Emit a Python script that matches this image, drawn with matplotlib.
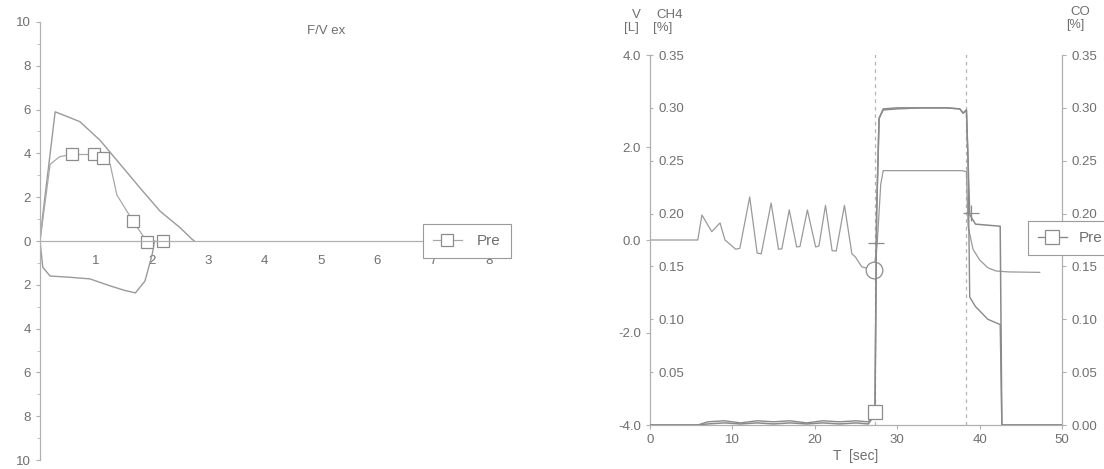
import matplotlib.pyplot as plt
import numpy as np

plt.rcParams['font.family'] = ['Liberation Sans', 'DejaVu Sans']

line_c = '#9a9a9a'
text_c = '#6f6f6f'

# F/V loop (volume in L, flow in L/s)
ex_vol = [0, 0.05, 0.27, 0.71, 1.07, 1.43, 1.79, 2.14, 2.5, 2.7, 2.75]
ex_flow = [0, 1.2, 5.9, 5.45, 4.6, 3.5, 2.4, 1.36, 0.6, 0.1, 0]
in_vol = [0, 0.05, 0.18, 0.5, 0.89, 1.25, 1.5, 1.7, 1.87, 2.0, 2.04]
in_flow = [0, -1.2, -1.6, -1.65, -1.73, -2.05, -2.25, -2.37, -1.83, -0.6, 0]
pre_vol = [0, 0.18, 0.35, 0.57, 0.97, 1.13, 1.25, 1.37, 1.66, 1.91, 2.2]
pre_flow = [0, 3.5, 3.85, 3.95, 3.95, 3.8, 3.5, 2.1, 0.9, -0.05, 0.0]
pre_marks = [3, 4, 5, 8, 9, 10]

# single breath trace
t_v = [0, 5.8, 6.3, 7.5, 8.5, 9.1, 10.4, 10.9, 12.1, 13.0, 13.5, 14.7, 15.6, 16.0,
       16.9, 17.8, 18.2, 19.1, 20.1, 20.5, 21.3, 22.1, 22.6, 23.6, 24.5, 24.9,
       25.7, 27.2, 27.6, 28.0, 28.3, 37.8, 38.4, 38.6, 39.2, 40.0, 41.0, 42.0,
       43.5, 47.3]
vol = [0, 0, 0.54, 0.18, 0.37, 0.0, -0.2, -0.18, 0.93, -0.28, -0.3, 0.8, -0.2,
       -0.19, 0.65, -0.15, -0.14, 0.65, -0.15, -0.13, 0.75, -0.23, -0.24, 0.75,
       -0.3, -0.36, -0.58, -0.65, 0.0, 1.2, 1.5, 1.5, 1.48, 0.3, -0.2, -0.43,
       -0.6, -0.67, -0.69, -0.7]
t_gas = [0, 5.8, 7, 9, 11, 13, 15, 17, 19, 21, 23, 25, 26.5, 27.3, 27.5, 27.8,
         28.3, 30, 33, 36, 37.6, 38.0, 38.4, 38.6, 38.8, 39.5, 41, 42.5, 42.7, 50]
ch4 = [0, 0, 0.001, 0.002, 0.001, 0.002, 0.001, 0.002, 0.001, 0.002, 0.001,
       0.002, 0.001, 0.01, 0.2, 0.29, 0.299, 0.3, 0.3, 0.3, 0.299, 0.295, 0.298,
       0.25, 0.199, 0.19, 0.189, 0.188, 0.0, 0.0]
co = [0, 0, 0.003, 0.004, 0.002, 0.004, 0.003, 0.004, 0.002, 0.004, 0.003,
      0.004, 0.003, 0.012, 0.2, 0.29, 0.298, 0.299, 0.3, 0.3, 0.299, 0.295,
      0.298, 0.25, 0.121, 0.112, 0.1, 0.095, 0.0, 0.0]
co_mark = 13
insp_t, insp_v = 27.2, -0.65
cross_t = [27.4, 38.9]
cross_v = [-0.06, 0.58]
events = [27.3, 38.4]

fig = plt.figure(figsize=(11.04, 4.69), dpi=100)

# ---- left: flow / volume
ax = fig.add_axes([40/1104, 9/469, 449/1104, 438/469])
ax.plot(ex_vol, ex_flow, color=line_c, lw=1)
ax.plot(in_vol, in_flow, color=line_c, lw=1)
ax.plot(pre_vol, pre_flow, color='#a8a8a8', lw=0.9, marker='s', markevery=pre_marks,
        ms=9, mfc='white', mec='#8c8c8c', mew=0.9, label='Pre')
ax.set_xlim(0, 8)
ax.set_ylim(-10, 10)
ax.spines['bottom'].set_position(('data', 0))
ax.spines['top'].set_visible(False)
ax.spines['right'].set_visible(False)
for s in ['left', 'bottom']:
    ax.spines[s].set_color('#b0b0b0')
    ax.spines[s].set_linewidth(0.9)
ax.set_xticks(range(1, 9))
yt = list(range(-10, 11, 2))
ax.set_yticks(yt)
ax.set_yticklabels([str(abs(v)) for v in yt])
ax.set_yticks(np.arange(-10, 10.5, 1), minor=True)
ax.tick_params(colors='#b0b0b0', labelcolor=text_c, labelsize=9.5, length=3)
ax.tick_params(axis='x', length=0, pad=10)
ax.tick_params(which='minor', length=2, colors='#b8b8b8')
ax.text(5.1, 9.6, 'F/V ex', color=text_c, fontsize=9.5, ha='center', va='center')
leg = ax.legend(loc='center left', bbox_to_anchor=(423/1104, 1-241/469),
                bbox_transform=fig.transFigure, fontsize=11, fancybox=False,
                edgecolor='#9a9a9a', borderpad=0.65, handlelength=1.9,
                handletextpad=1.0, borderaxespad=0, labelcolor=text_c, framealpha=1)
leg.get_frame().set_linewidth(0.8)

# ---- right: V, CH4, CO over time
bx = fig.add_axes([650/1104, 44/469, 412/1104, 370/469])
bx.set_xlim(0, 50)
bx.set_ylim(-4, 4)
cx = bx.twinx()
dx = bx.twinx()
for a in (cx, dx):
    a.set_ylim(0, 0.35)
    for s in a.spines.values():
        s.set_visible(False)
bx.spines['top'].set_visible(False)
bx.spines['right'].set_visible(False)
for s in ['left', 'bottom']:
    bx.spines[s].set_color('#b0b0b0')
    bx.spines[s].set_linewidth(0.9)
dx.spines['right'].set_visible(True)
dx.spines['right'].set_color('#b0b0b0')
dx.spines['right'].set_linewidth(0.9)

for x in events:
    bx.axvline(x, ymax=1.01, color='#b5b5b5', lw=0.9, ls=(0, (3, 3)))

bx.plot(t_v, vol, color=line_c, lw=0.9)
cx.plot(t_gas, ch4, color='#8a8a8a', lw=1.1)
dx.plot(t_gas, co, color='#8a8a8a', lw=1.0, marker='s', markevery=[co_mark],
        ms=10, mfc='white', mec='#8c8c8c', mew=0.9, label='Pre')
bx.plot([insp_t], [insp_v], 'o', ms=12, mfc='white', mec='#8c8c8c', mew=0.9)
bx.plot(cross_t, cross_v, '+', ms=11, color='#8c8c8c', mew=0.9)

bx.set_xticks(range(0, 51, 10))
bx.set_yticks([-4, -2, 0, 2, 4])
bx.set_yticklabels(['-4.0', '-2.0', '0.0', '2.0', '4.0'])
bx.tick_params(colors='#b0b0b0', labelcolor=text_c, labelsize=9.5, length=3)
bx.set_xlabel('T  [sec]', color=text_c, fontsize=10, labelpad=2)

gt = np.arange(0, 0.351, 0.05)
cx.yaxis.set_ticks_position('left')
cx.set_yticks(gt[1:])
cx.set_yticklabels(['%.2f' % v for v in gt[1:]])
cx.tick_params(axis='y', left=True, right=False, labelleft=True, labelright=False,
               direction='in', length=2, pad=-6, colors='#b0b0b0',
               labelcolor=text_c, labelsize=9.5)
for lb in cx.get_yticklabels():
    lb.set_horizontalalignment('left')

dx.set_yticks(gt)
dx.set_yticklabels(['%.2f' % v for v in gt])
dx.tick_params(axis='y', colors='#b0b0b0', labelcolor=text_c, labelsize=9.5, length=3)

fig.text(636/1104, 1-15/469, 'V', color=text_c, fontsize=9.5, ha='center', va='center')
fig.text(631/1104, 1-28/469, '[L]', color=text_c, fontsize=9.5, ha='center', va='center')
fig.text(670/1104, 1-15/469, 'CH4', color=text_c, fontsize=9.5, ha='center', va='center')
fig.text(663/1104, 1-28/469, '[%]', color=text_c, fontsize=9.5, ha='center', va='center')
fig.text(1080/1104, 1-12/469, 'CO', color=text_c, fontsize=9.5, ha='center', va='center')
fig.text(1075/1104, 1-25/469, '[%]', color=text_c, fontsize=9, ha='center', va='center')

leg2 = dx.legend(loc='center left', bbox_to_anchor=(1028/1104, 1-238/469),
                 bbox_transform=fig.transFigure, fontsize=11, fancybox=False,
                 edgecolor='#9a9a9a', borderpad=0.65, handlelength=1.9,
                 handletextpad=0.8, borderaxespad=0, labelcolor=text_c, framealpha=1)
leg2.get_frame().set_linewidth(0.8)

fig.savefig('out.png', dpi=100)
